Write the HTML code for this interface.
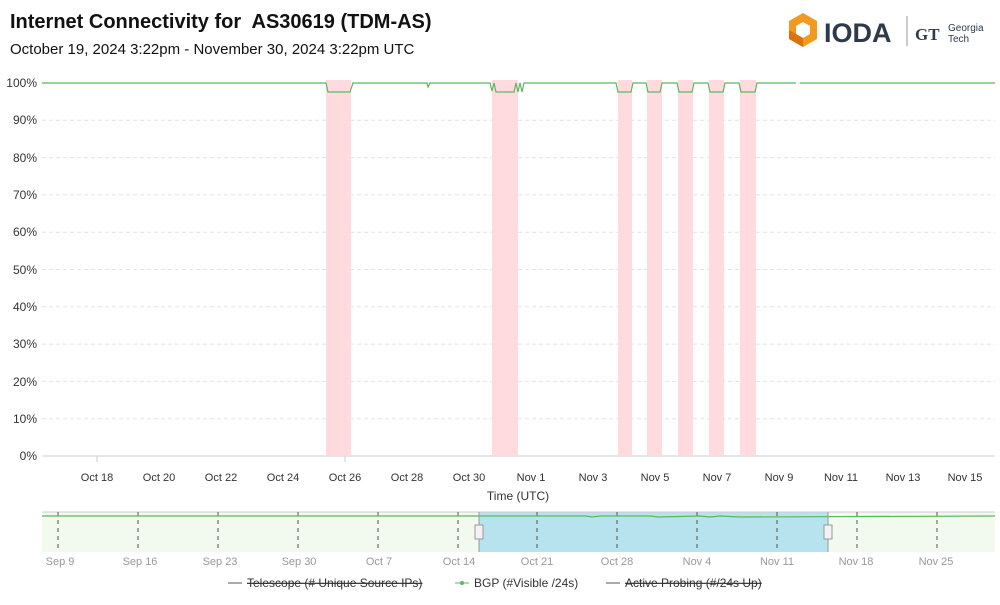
<!DOCTYPE html>
<html><head><style>
body{margin:0;background:#fff;font-family:"Liberation Sans",sans-serif;}
</style></head><body>
<svg width="1000" height="600" xmlns="http://www.w3.org/2000/svg" font-family="Liberation Sans, sans-serif">
<text x="10" y="28" font-size="20" font-weight="bold" fill="#111">Internet Connectivity for&#160; AS30619 (TDM-AS)</text>
<text x="10" y="54" font-size="15" fill="#111">October 19, 2024 3:22pm - November 30, 2024 3:22pm UTC</text>
<!-- logo -->
<polygon points="803,13 817,21 817,39 803,47 789,39 789,21" fill="#f29a1d"/>
<polygon points="803,22 810,26 810,34 803,38 796,34 796,26" fill="#fff"/>
<polygon points="789,30 803,38 803,47 789,39" fill="#d9730d"/>
<text x="824" y="42" font-size="27" font-weight="bold" fill="#2e3a4a">IODA</text>
<line x1="907" y1="16" x2="907" y2="46" stroke="#999"/>
<text x="915" y="40" font-size="17" font-weight="bold" fill="#2e3a4a" font-family="Liberation Serif, serif">GT</text>
<text x="948" y="31" font-size="10" fill="#2e3a4a">Georgia</text>
<text x="948" y="42" font-size="10" fill="#2e3a4a">Tech</text>
<!-- grid -->
<g stroke="#e3e3e3" stroke-dasharray="4,3">
<line x1="42" x2="995" y1="83" y2="83"/><line x1="42" x2="995" y1="120.3" y2="120.3"/><line x1="42" x2="995" y1="157.6" y2="157.6"/><line x1="42" x2="995" y1="194.9" y2="194.9"/><line x1="42" x2="995" y1="232.2" y2="232.2"/><line x1="42" x2="995" y1="269.5" y2="269.5"/><line x1="42" x2="995" y1="306.8" y2="306.8"/><line x1="42" x2="995" y1="344.1" y2="344.1"/><line x1="42" x2="995" y1="381.4" y2="381.4"/><line x1="42" x2="995" y1="418.7" y2="418.7"/>
</g>
<line x1="42" x2="995" y1="456" y2="456" stroke="#ccc"/>
<g font-size="12" fill="#333" text-anchor="end">
<text x="37" y="87">100%</text><text x="37" y="124">90%</text><text x="37" y="162">80%</text><text x="37" y="199">70%</text><text x="37" y="236">60%</text><text x="37" y="274">50%</text><text x="37" y="311">40%</text><text x="37" y="348">30%</text><text x="37" y="386">20%</text><text x="37" y="423">10%</text><text x="37" y="460">0%</text>
</g>
<g fill="#ffdbe0">
<rect x="326" y="80" width="25" height="376"/><rect x="492" y="80" width="26" height="376"/><rect x="618" y="80" width="14" height="376"/><rect x="647" y="80" width="15" height="376"/><rect x="678" y="80" width="15" height="376"/><rect x="709" y="80" width="15" height="376"/><rect x="740" y="80" width="16" height="376"/>
</g>
<path d="M42,83 L326,83 L328,92 L350,92 L353,83 L427,83 L428,87 L430,83 L490,83 L492,91 L494,83 L496,92 L514,92 L516,83 L518,92 L520,83 L522,92 L524,83 L616,83 L618,92 L631,92 L633,83 L646,83 L648,92 L660,92 L662,83 L677,83 L679,92 L692,92 L694,83 L708,83 L710,92 L723,92 L725,83 L739,83 L741,92 L755,92 L757,83 L796,83 M800,83 L995,83" fill="none" stroke="#5cb85c" stroke-width="1.2"/>
<g font-size="11" fill="#333" text-anchor="middle">
<text x="97" y="481">Oct 18</text><text x="159" y="481">Oct 20</text><text x="221" y="481">Oct 22</text><text x="283" y="481">Oct 24</text><text x="345" y="481">Oct 26</text><text x="407" y="481">Oct 28</text><text x="469" y="481">Oct 30</text><text x="531" y="481">Nov 1</text><text x="593" y="481">Nov 3</text><text x="655" y="481">Nov 5</text><text x="717" y="481">Nov 7</text><text x="779" y="481">Nov 9</text><text x="841" y="481">Nov 11</text><text x="903" y="481">Nov 13</text><text x="965" y="481">Nov 15</text>
</g>
<g stroke="#ccc"><line x1="97" x2="97" y1="456" y2="462"/><line x1="345" x2="345" y1="456" y2="462"/></g>
<text x="518" y="500" font-size="12" fill="#333" text-anchor="middle">Time (UTC)</text>
<!-- navigator -->
<rect x="42" y="512" width="953" height="40" fill="#f2f9ef"/>
<rect x="479" y="512" width="349" height="40" fill="#b7e3ef"/>
<line x1="42" x2="995" y1="512" y2="512" stroke="#ccc"/>
<g stroke="#555" stroke-dasharray="4,4">
<line x1="58" x2="58" y1="512" y2="552"/><line x1="138" x2="138" y1="512" y2="552"/><line x1="218" x2="218" y1="512" y2="552"/><line x1="298" x2="298" y1="512" y2="552"/><line x1="378" x2="378" y1="512" y2="552"/><line x1="458" x2="458" y1="512" y2="552"/><line x1="537" x2="537" y1="512" y2="552"/><line x1="617" x2="617" y1="512" y2="552"/><line x1="697" x2="697" y1="512" y2="552"/><line x1="777" x2="777" y1="512" y2="552"/><line x1="857" x2="857" y1="512" y2="552"/><line x1="937" x2="937" y1="512" y2="552"/>
</g>
<path d="M42,516 L586,516 L592,517 L600,516 L650,516 L658,517 L700,516 L710,517 L720,516 L740,517 L995,516" fill="none" stroke="#5cb85c" stroke-width="1.2"/>
<line x1="479" x2="479" y1="512" y2="552" stroke="#999"/><line x1="828" x2="828" y1="512" y2="552" stroke="#999"/>
<rect x="475" y="525" width="8" height="14" fill="#f2f2f2" stroke="#999"/><rect x="824" y="525" width="8" height="14" fill="#f2f2f2" stroke="#999"/>
<g font-size="11" fill="#999" text-anchor="middle">
<text x="60" y="565">Sep 9</text><text x="140" y="565">Sep 16</text><text x="220" y="565">Sep 23</text><text x="299" y="565">Sep 30</text><text x="379" y="565">Oct 7</text><text x="459" y="565">Oct 14</text><text x="537" y="565">Oct 21</text><text x="617" y="565">Oct 28</text><text x="697" y="565">Nov 4</text><text x="777" y="565">Nov 11</text><text x="856" y="565">Nov 18</text><text x="936" y="565">Nov 25</text>
</g>
<g font-size="12" fill="#333">
<line x1="228" x2="242" y1="583" y2="583" stroke="#555"/><text x="247" y="587" text-decoration="line-through">Telescope (# Unique Source IPs)</text>
<line x1="455" x2="469" y1="583" y2="583" stroke="#5cb85c"/><circle cx="462" cy="583" r="2" fill="#5cb85c"/><text x="474" y="587">BGP (#Visible /24s)</text>
<line x1="606" x2="620" y1="583" y2="583" stroke="#555"/><text x="625" y="587" text-decoration="line-through">Active Probing (#/24s Up)</text>
</g>
</svg>
</body></html>
